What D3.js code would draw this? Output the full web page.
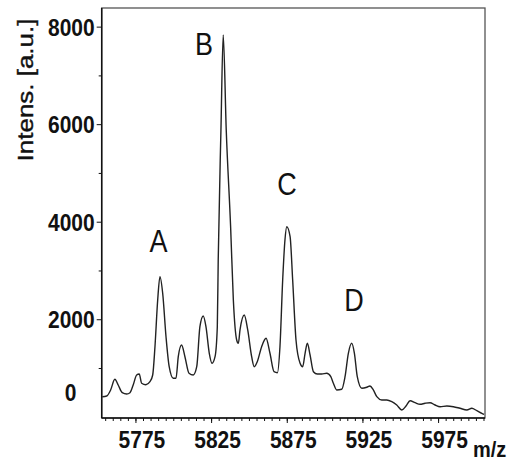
<!DOCTYPE html>
<html>
<head>
<meta charset="utf-8">
<script src="https://cdn.jsdelivr.net/npm/d3@7"></script>
<style>
  body { margin: 0; background: #fff; }
  text { font-family: "Liberation Sans", Arial, sans-serif; fill: #111; }
</style>
</head>
<body>
<svg id="chart" width="509" height="461"></svg>
<script>
// Mass spectrum: m/z values and intensities [a.u.]
const mz = [
  5753.1, 5756.0, 5758.6, 5761.4, 5763.6, 5766.3, 5769.2, 5771.4, 5773.5, 5775.8,
  5777.5, 5779.1, 5781.9, 5784.6, 5786.4, 5787.9, 5789.7, 5791.2, 5793.0, 5795.2,
  5797.3, 5800.0, 5801.8, 5803.3, 5805.5, 5807.7, 5810.4, 5813.2, 5815.5, 5817.6,
  5819.8, 5821.6, 5823.8, 5825.6, 5827.6, 5829.1, 5829.7, 5831.5, 5833.0, 5835.0,
  5837.9, 5839.7, 5841.9, 5843.0, 5844.1, 5846.9, 5849.2, 5851.8, 5853.5,
  5855.5, 5858.4, 5861.3, 5863.9, 5866.6, 5868.8, 5870.5, 5872.3, 5873.8, 5875.0,
  5877.2, 5878.9, 5881.1, 5883.8, 5885.5, 5887.1, 5888.6, 5890.4, 5892.6, 5895.2,
  5898.1, 5901.4, 5904.1, 5905.8, 5908.0, 5911.3, 5913.5, 5915.7, 5917.9, 5919.7,
  5921.6, 5924.6, 5927.9, 5930.0, 5932.2, 5934.5, 5937.8, 5941.1, 5944.4, 5947.7,
  5951.0, 5953.8, 5956.5, 5959.8, 5963.1, 5966.4, 5969.7, 5973.0, 5976.3, 5980.8,
  5985.1, 5989.5, 5994.0, 5997.3, 6000.6, 6003.9, 6005.4
];
const intensity = [
  412, 426, 550, 769, 652, 494, 467, 494, 652, 857,
  878, 687, 658, 720, 857, 1437, 2395, 2873, 2532, 1642,
  1027, 789, 789, 1232, 1472, 1232, 892, 857, 1027, 1847,
  2067, 1847, 1302, 1097, 1232, 1847, 3215, 5880, 7828, 5880,
  3892, 2395, 1575, 1507, 1780, 2087, 1780, 1232, 1027,
  1130, 1437, 1610, 1302, 925, 904, 1437, 2805, 3625, 3898,
  3693, 2805, 1575, 1097, 1027, 1302, 1507, 1267, 925, 878,
  878, 892, 822, 687, 550, 564, 822, 1302, 1507, 1302,
  822, 584, 605, 632, 550, 412, 344, 344, 310, 242,
  139, 221, 330, 289, 256, 277, 289, 242, 207, 221,
  207, 174, 139, 174, 125, 72, 51
];

// Axis ticks
const yMajorTicks = [2000, 4000, 6000, 8000];
const yMinorTicks = [1000, 3000, 5000, 7000];
const xMajorTicks = [5775, 5825, 5875, 5925, 5975];

// Peak annotations (label anchor in data units)
const peakNames = ["A", "B", "C", "D"];
const peakLabelMz = [5790.2, 5820.3, 5875.2, 5919.5];
const peakLabelIntensity = [3379, 7418, 4548, 2169];

const svg = d3.select("#chart");
const plotLeft = 101.7, plotRight = 485, plotTop = 8, plotBottom = 418;
const stretch = 1.18; // text is drawn slightly tall

const x = d3.scaleLinear().domain([5752.7, 6006]).range([plotLeft, plotRight]);
const y = d3.scaleLinear().domain([-25, 8382]).range([plotBottom, plotTop]);

// Plot frame
svg.append("rect")
  .attr("x", plotLeft).attr("y", plotTop)
  .attr("width", plotRight - plotLeft).attr("height", plotBottom - plotTop)
  .attr("fill", "none").attr("stroke", "#555").attr("stroke-width", 1.3);

// Spectrum trace
const pts = mz.map((m, i) => [m, intensity[i]]);
svg.append("path")
  .datum(pts)
  .attr("fill", "none")
  .attr("stroke", "#222")
  .attr("stroke-width", 1.4)
  .attr("stroke-linejoin", "round")
  .attr("d", d3.line().x(d => x(d[0])).y(d => y(d[1])).curve(d3.curveMonotoneX));

// Y axis
const yAxisG = svg.append("g").attr("transform", `translate(${plotLeft},0)`);
yAxisG.append("g")
  .call(d3.axisLeft(y).tickValues(yMinorTicks).tickSize(3).tickSizeOuter(0).tickFormat(""))
  .call(g => g.select(".domain").remove());
yAxisG.append("g")
  .call(d3.axisLeft(y).tickValues(yMajorTicks).tickSize(5).tickSizeOuter(0).tickFormat(d3.format("d")))
  .call(g => g.select(".domain").remove())
  .call(g => g.selectAll("text")
    .attr("x", -7).attr("dy", "0.34em")
    .attr("transform", `scale(1,${stretch})`)
    .style("font-size", "21px").style("font-weight", "bold")
    .style("fill", "#111"));
yAxisG.selectAll("line").attr("stroke", "#111");
yAxisG.append("line")
  .attr("x1", 0).attr("x2", 0).attr("y1", plotTop).attr("y2", plotBottom)
  .attr("stroke", "#111").attr("stroke-width", 1.5);

// Zero label sits above the baseline corner, clear of the x axis labels
svg.append("text")
  .attr("transform", `translate(${plotLeft - 31},${y(0) - 24}) scale(1,${stretch})`)
  .attr("text-anchor", "middle").attr("dy", "0.34em")
  .style("font-size", "21px").style("font-weight", "bold")
  .text("0");

// X axis
const xAxisG = svg.append("g").attr("transform", `translate(0,${plotBottom})`);
xAxisG.append("g")
  .call(d3.axisBottom(x).tickValues(d3.range(5755, 6006, 5)).tickSize(3).tickSizeOuter(0).tickFormat(""))
  .call(g => g.select(".domain").remove());
xAxisG.append("g")
  .call(d3.axisBottom(x).tickValues(xMajorTicks).tickSize(5).tickSizeOuter(0).tickFormat(d3.format("d")))
  .call(g => g.select(".domain").remove())
  .call(g => g.selectAll("text")
    .attr("x", 6).attr("y", 30 / stretch).attr("dy", 0)
    .attr("transform", `scale(1,${stretch})`)
    .style("font-size", "21px").style("font-weight", "bold")
    .style("fill", "#111"));
xAxisG.selectAll("line").attr("stroke", "#111");
xAxisG.append("line")
  .attr("x1", plotLeft).attr("x2", plotRight).attr("y1", 0).attr("y2", 0)
  .attr("stroke", "#111").attr("stroke-width", 1.5);

// Axis titles
svg.append("text")
  .attr("transform", `translate(33,90) scale(1,${stretch}) rotate(-90)`)
  .attr("text-anchor", "middle")
  .style("font-size", "22px")
  .style("stroke", "#111").style("stroke-width", 0.4)
  .text("Intens. [a.u.]");

svg.append("text")
  .attr("transform", `translate(473,457) scale(1,${stretch * 0.95})`)
  .style("font-size", "20px").style("font-weight", "bold")
  .text("m/z");

// Peak labels
svg.append("g").selectAll("text")
  .data(peakNames)
  .join("text")
  .attr("transform", (d, i) => `translate(${x(peakLabelMz[i])},${y(peakLabelIntensity[i])}) scale(1,${stretch})`)
  .attr("text-anchor", "middle")
  .style("font-size", "27px")
  .text(d => d);
</script>
</body>
</html>
